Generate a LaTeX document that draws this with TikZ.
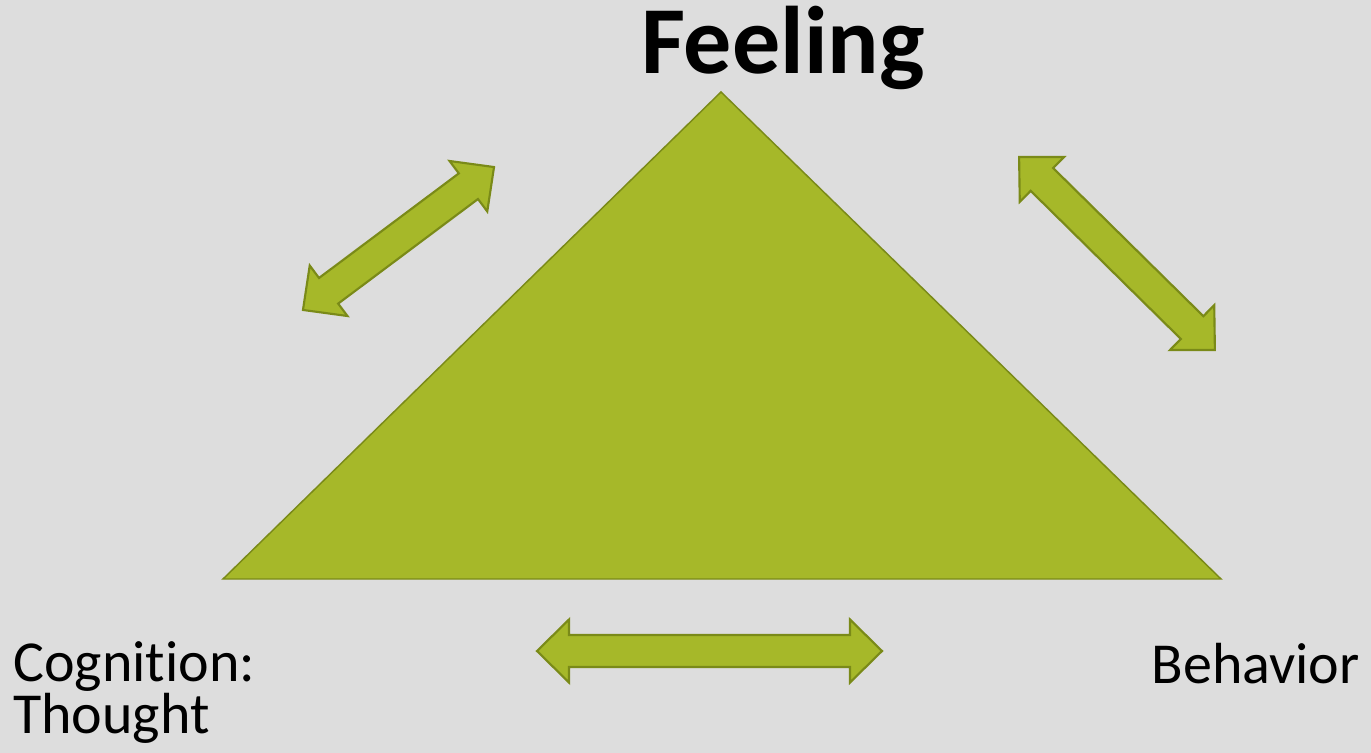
\documentclass[tikz,border=0pt]{standalone}
\usepackage{fontspec}
\setmainfont{Carlito}[Ligatures=NoCommon]
\definecolor{bggray}{RGB}{221,221,221}
\definecolor{olivefill}{RGB}{166,184,41}
\definecolor{oliveline}{RGB}{122,138,24}
\tikzset{
  blockarrow/.style={fill=olivefill,draw=oliveline,line width=1.6pt,line join=miter},
  label/.style={inner sep=0pt,font=\fontsize{43.5}{37.5}\selectfont}
}
\begin{document}
\begin{tikzpicture}[x=0.75pt,y=-0.75pt]
  \fill[bggray] (0,0) rectangle (1371,753);
  \useasboundingbox (0,0) rectangle (1371,753);
  % triangle
  \filldraw[fill=olivefill,draw=oliveline,line width=1.1pt] (721,92) -- (1221,579) -- (223,579) -- cycle;
  % double arrows: centre x, centre y, angle, half length
  \foreach \cx/\cy/\ang/\hl in {709.5/651/0/172.5, 398.5/238.5/36.8/119.3, 1117/253.5/-44.6/137.5}{
    \begin{scope}[shift={(\cx,\cy)},rotate=\ang]
      \draw[blockarrow] (-\hl,0) -- (-\hl+32,31.5) -- (-\hl+32,16) -- (\hl-32,16)
        -- (\hl-32,31.5) -- (\hl,0) -- (\hl-32,-31.5) -- (\hl-32,-16)
        -- (-\hl+32,-16) -- (-\hl+32,-31.5) -- cycle;
    \end{scope}
  }
  \node[inner sep=0pt,anchor=base,font=\fontsize{72}{80}\bfseries] (feeling) at (783,73) {Feeling};
  \node[label,align=left,anchor=base west] (cognition) at (13,733) {Cognition:\\Thought};
  \node[label,anchor=base east] (behavior) at (1360,683) {Behavior};
\end{tikzpicture}
\end{document}
